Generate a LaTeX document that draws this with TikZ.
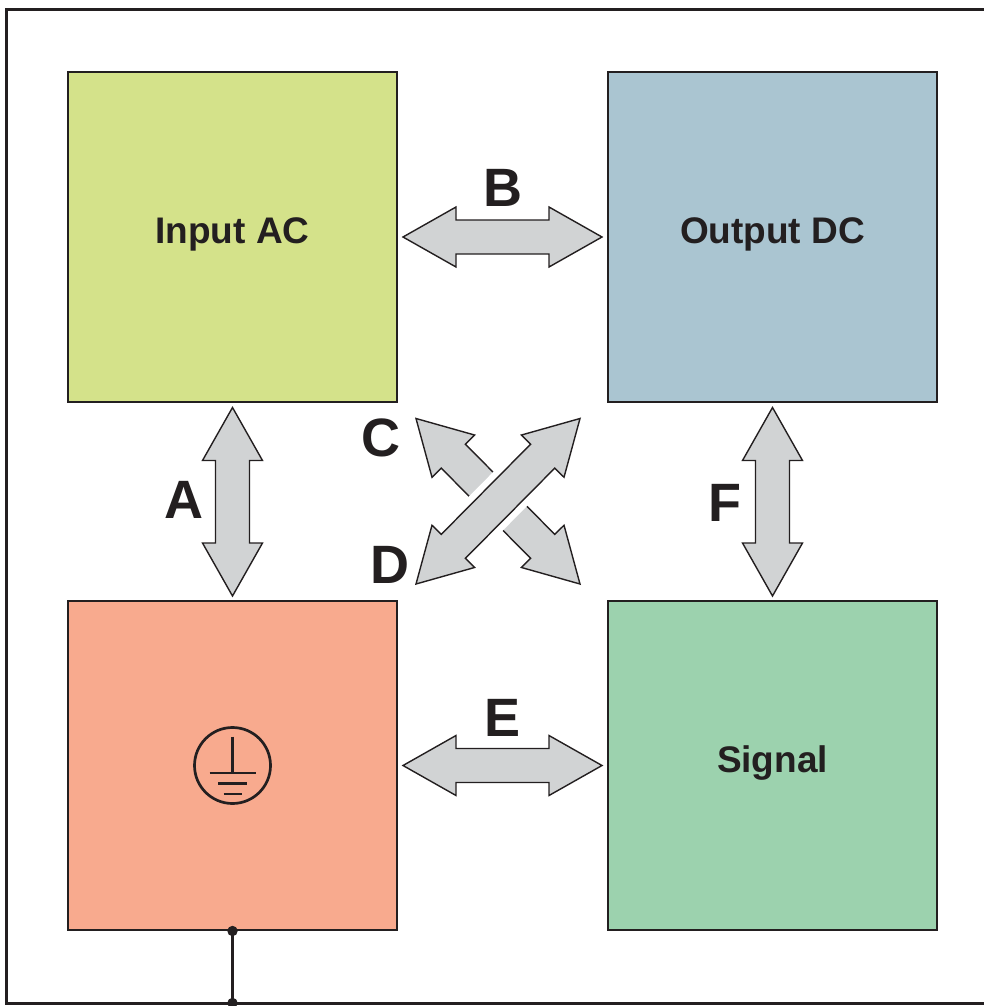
\documentclass[tikz,border=0pt]{standalone}
\usepackage{fontspec}
\setmainfont{Liberation Sans}
\usetikzlibrary{calc}
\definecolor{ink}{HTML}{231F20}
\definecolor{acgreen}{HTML}{D4E28A}
\definecolor{dcblue}{HTML}{AAC5D1}
\definecolor{gndred}{HTML}{F8AA8E}
\definecolor{siggreen}{HTML}{9CD2AE}
\definecolor{arrowgray}{HTML}{D1D3D4}

% block arrow with a head at both ends, from #2 to #3
\newcommand{\dblarrow}[3][]{%
  \coordinate (ha) at ($(#2)!26.5pt!(#3)$);
  \coordinate (hb) at ($(#3)!26.5pt!(#2)$);
  \draw[blockarrow,#1] (#2) -- ($(ha)!15pt!90:(#3)$) -- ($(ha)!8.5pt!90:(#3)$)
    -- ($(hb)!8.5pt!-90:(#2)$) -- ($(hb)!15pt!-90:(#2)$) -- (#3)
    -- ($(hb)!15pt!90:(#2)$) -- ($(hb)!8.5pt!90:(#2)$)
    -- ($(ha)!8.5pt!-90:(#3)$) -- ($(ha)!15pt!-90:(#3)$) -- cycle;
}

\begin{document}
\begin{tikzpicture}[x=0.5pt,y=-0.5pt,
  box/.style={draw=ink, line width=1pt, minimum width=164.5pt, minimum height=164.5pt, inner sep=0pt},
  boxtext/.style={text=ink, anchor=base, font=\bfseries\fontsize{18.5}{20}\selectfont},
  letter/.style={text=ink, inner sep=0pt, font=\bfseries\fontsize{27}{27}\selectfont},
  blockarrow/.style={draw=ink, fill=arrowgray, line width=0.7pt, line join=miter},
  wire/.style={draw=ink, line width=1.5pt}]
  \useasboundingbox (0,0) rectangle (984,1006);
  \draw[wire] (6,10) rectangle (995,1003);

  \node[box, fill=acgreen] (inac) at (232.5,237) {};
  \node[box, fill=dcblue] (outdc) at (772.5,237) {};
  \node[box, fill=gndred] (gnd) at (232.5,765.5) {};
  \node[box, fill=siggreen] (sig) at (772.5,765.5) {};

  \node[boxtext] (inlbl) at ($(inac.center)+(0,6)$) {Input AC};
  \node[boxtext] (outlbl) at ($(outdc.center)+(0,6)$) {Output DC};
  \node[boxtext] (siglbl) at ($(sig.center)+(0,6.5)$) {Signal};

  % earth symbol
  \begin{scope}[shift={(gnd.center)}, draw=ink, line width=1.35pt]
    \draw (0,0) circle[radius=19pt];
    \draw (0,-29) -- (0,7.5);
    \draw (-23,7.5) -- (23,7.5);
    \draw (-14.5,18) -- (14.5,18);
    \draw (-9,28.5) -- (9,28.5);
  \end{scope}

  % earth wire
  \coordinate (gndpt) at (232.5,1003);
  \draw[wire] (gnd.south) -- (gndpt);
  \fill[ink] (gnd.south) circle[radius=2.6pt];
  \fill[ink] (gndpt) circle[radius=2.6pt];

  % arrow ends
  \coordinate (b1) at ($(inac.east)+(5,0)$);
  \coordinate (b2) at ($(outdc.west)+(-5,0)$);
  \coordinate (e1) at ($(gnd.east)+(5,0)$);
  \coordinate (e2) at ($(sig.west)+(-5,0)$);
  \coordinate (a1) at ($(inac.south)+(0,5)$);
  \coordinate (a2) at ($(gnd.north)+(0,-4)$);
  \coordinate (f1) at ($(outdc.south)+(0,5)$);
  \coordinate (f2) at ($(sig.north)+(0,-4)$);
  \coordinate (c1) at ($(inac.south east)+(18,16)$);
  \coordinate (c2) at ($(sig.north west)+(-27,-16)$);
  \coordinate (d1) at ($(gnd.north east)+(18,-16)$);
  \coordinate (d2) at ($(outdc.south west)+(-27,16)$);

  \dblarrow{b1}{b2}
  \dblarrow{e1}{e2}
  \dblarrow{a1}{a2}
  \dblarrow{f1}{f2}
  \dblarrow{c1}{c2}
  \dblarrow[preaction={draw=white, line width=7pt}]{d1}{d2}

  \node[letter] (lblA) at (184,500) {A};
  \node[letter] (lblB) at (503,188) {B};
  \node[letter] (lblC) at (381,438) {C};
  \node[letter] (lblD) at (390,565) {D};
  \node[letter] (lblE) at (503,718) {E};
  \node[letter] (lblF) at (725,503) {F};
\end{tikzpicture}
\end{document}
